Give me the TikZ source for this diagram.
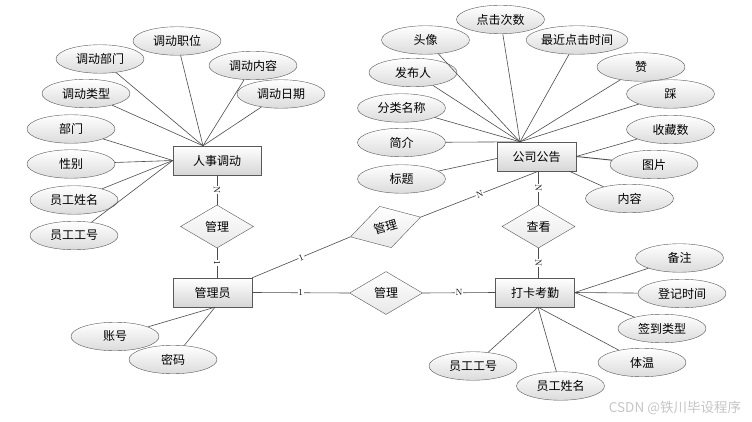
\documentclass[tikz,border=0pt]{standalone}
\usepackage{fontspec}
\newfontfamily\cjk{Noto Sans CJK SC}
\usetikzlibrary{shapes.geometric,calc}
\begin{document}
\begin{tikzpicture}[x=1pt,y=-1pt,
  attr/.style={ellipse, draw=gray!70!black, top color=white, bottom color=black!14,
    minimum width=88pt, minimum height=28.5pt, inner sep=0pt, font=\cjk\fontsize{12}{12}\selectfont},
  ent/.style={rectangle, draw=gray!70!black, top color=white, bottom color=black!16,
    minimum width=79pt, minimum height=29pt, inner sep=0pt, font=\cjk\fontsize{12}{12}\selectfont},
  rel/.style={diamond, draw=gray!70!black, top color=white, bottom color=black!9,
    minimum width=73pt, minimum height=43pt, inner sep=0pt, aspect=1.7, font=\cjk\fontsize{12}{12}\selectfont},
  lab/.style={fill=white, inner sep=0.6pt, font=\fontsize{9}{9}\selectfont},
  conn/.style={draw=gray!60!black, line width=0.6pt}]
\useasboundingbox (0,0) rectangle (752,422);
\fill[white] (0,0) rectangle (752,422);

% entities
\node[ent, minimum width=88pt] (rs) at (217,160.5) {人事调动};
\node[ent] (gg) at (536.5,156.5) {公司公告};
\node[ent] (gly) at (212.5,292.5) {管理员};
\node[ent] (dk) at (535,292.5) {打卡考勤};

% relations
\node[rel] (r1) at (217,226.5) {管理};
\node[rel, rotate=15.7] (r2) at (385.5,227) {管理};
\node[rel] (r3) at (386,293) {管理};
\node[rel] (r4) at (538.5,226.5) {查看};

% hubs
\coordinate (rsT) at ([xshift=-14pt]rs.north);
\coordinate (rsL) at (rs.west);
\coordinate (ggT) at ([xshift=-16.5pt]gg.north);
\coordinate (ggL) at ([yshift=-2pt]gg.west);
\coordinate (ggR) at (gg.east);
\coordinate (ggBR) at ([xshift=-7pt]gg.south east);
\coordinate (ggB) at (r4.north |- gg.south);
\coordinate (dkT) at (r4.south |- dk.north);
\coordinate (dkR) at (dk.east);
\coordinate (dkB) at ([xshift=3pt]dk.south);
\coordinate (glyT) at (r1.south |- gly.north);
\coordinate (glyB) at ([xshift=2.5pt]gly.south);

% attributes of 人事调动
\node[attr] (a1) at (177,41) {调动职位};
\node[attr] (a2) at (100,59) {调动部门};
\node[attr] (a3) at (253,65.5) {调动内容};
\node[attr] (a4) at (86,93.5) {调动类型};
\node[attr] (a5) at (281,94) {调动日期};
\node[attr] (a6) at (71,129) {部门};
\node[attr] (a7) at (71,164) {性别};
\node[attr] (a8) at (74,200) {员工姓名};
\node[attr] (a9) at (74,235.5) {员工工号};

% attributes of 公司公告
\node[attr] (b1) at (500.5,19.5) {点击次数};
\node[attr] (b2) at (425.5,40) {头像};
\node[attr] (b3) at (577,40) {最近点击时间};
\node[attr] (b4) at (413,72.5) {发布人};
\node[attr] (b5) at (641,67) {赞};
\node[attr] (b6) at (670.5,94) {踩};
\node[attr] (b7) at (401.5,108) {分类名称};
\node[attr] (b8) at (401.5,142.5) {简介};
\node[attr] (b9) at (670.5,129.5) {收藏数};
\node[attr] (b10) at (654,164.5) {图片};
\node[attr] (b11) at (401.5,179) {标题};
\node[attr] (b12) at (629.5,198.5) {内容};

% attributes of 打卡考勤
\node[attr] (c1) at (679.5,258) {备注};
\node[attr] (c2) at (682,293.5) {登记时间};
\node[attr] (c3) at (662,328.5) {签到类型};
\node[attr] (c4) at (642,362.5) {体温};
\node[attr] (c5) at (473,366) {员工工号};
\node[attr] (c6) at (560.5,386) {员工姓名};

% attributes of 管理员
\node[attr] (d1) at (115,336.5) {账号};
\node[attr] (d2) at (173,359.5) {密码};

% attribute connectors
\foreach \n in {a1,a2,a3,a4,a5} \draw[conn] (\n) -- (rsT);
\foreach \n in {a6,a7,a8,a9} \draw[conn] (\n) -- (rsL);
\foreach \n in {b1,b2,b3,b4,b5,b6,b7,b8} \draw[conn] (\n) -- (ggT);
\draw[conn] (b11) -- (ggL);
\draw[conn] (b9) -- (ggR);
\draw[conn, line width=0.9pt] (b10) -- (ggR);
\draw[conn] (b12) -- (ggBR);
\foreach \n in {c1,c2,c3} \draw[conn] (\n) -- (dkR);
\foreach \n in {c4,c5,c6} \draw[conn] (\n) -- (dkB);
\foreach \n in {d1,d2} \draw[conn] (\n) -- (glyB);

% relation connectors
\draw[conn] (rs.south) -- node[lab, sloped] {N} (r1.north);
\draw[conn] (r1.south) -- node[lab, sloped] {1} (glyT);
\draw[conn] (gly.north east) -- node[lab, sloped] {1} (r2.west);
\draw[conn] (r2.east) -- node[lab, sloped] {N} (ggB);
\draw[conn] (gly.east) -- node[lab] {1} (r3.west);
\draw[conn] (r3.east) -- node[lab] {N} (dk.west);
\draw[conn] (ggB) -- node[lab, sloped] {N} (r4.north);
\draw[conn] (r4.south) -- node[lab, sloped] {N} (dkT);

% watermark
\node[text=gray!45, font=\cjk\fontsize{13.5}{14}\selectfont] (wm) at (675,408) {CSDN @铁川毕设程序};
\end{tikzpicture}
\end{document}
